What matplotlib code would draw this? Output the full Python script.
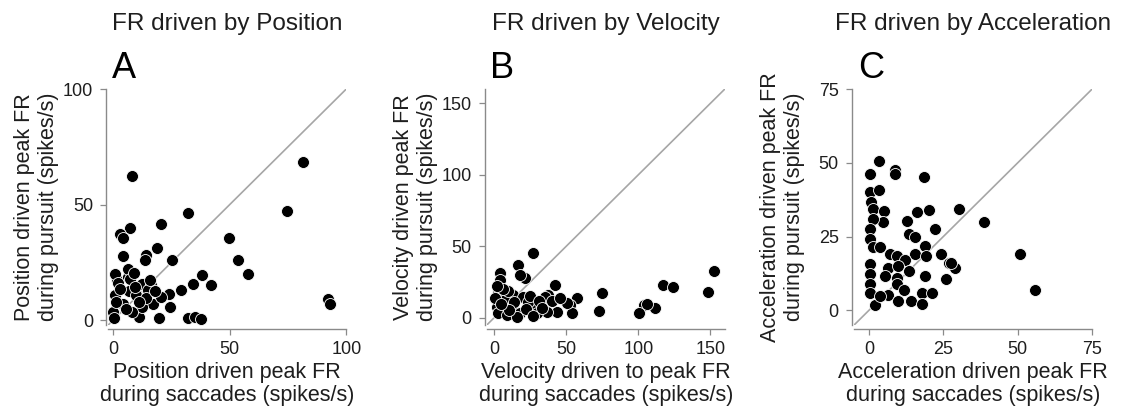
import matplotlib.pyplot as plt

plt.rcParams['font.family'] = ['Liberation Sans', 'DejaVu Sans']

# Peak firing rates (spikes/s): saccades (x) vs pursuit (y)
pos_sacc = [8.0, 81.6, 74.6, 32.2, 20.4, 7.3, 3.0, 4.4, 49.6, 18.7, 14.4, 13.7, 25.3, 4.4,
            53.8, 57.8, 92.0, 93.0, 38.2, 42.2, 34.2, 29.1, 24.1, 24.4, 32.2, 35.3, 37.9,
            19.7, 11.1, 17.2, 20.8, 12.3, 8.3, 4.4, 0.1, 1.1, 6.8, 1.6, 6.5, 6.5, 12.3,
            16.5, 10.1, 15.1, 0.9, 7.3, 2.3, 0.5, 3.0, 9.5, 14.0, 18.0, 5.5, 16.0, 11.0,
            1.5, 9.0]
pos_purs = [62.4, 68.5, 47.2, 46.6, 41.6, 39.8, 37.3, 35.5, 35.6, 31.2, 28.3, 26.0, 26.3, 28.0,
            25.9, 20.2, 9.4, 7.0, 19.7, 15.2, 15.6, 13.3, 11.3, 5.6, 0.9, 1.6, 0.4,
            0.9, 1.3, 7.3, 10.2, 5.9, 3.7, 7.0, 3.7, 10.9, 12.6, 17.3, 18.7, 22.3, 15.9,
            15.2, 10.9, 13.0, 20.2, 18.0, 16.0, 1.0, 13.5, 14.5, 9.5, 12.5, 5.0, 17.5, 8.0,
            8.0, 20.5]

vel_sacc = [26.9, 16.4, 21.5, 18.1, 4.2, 4.2, 42.4, 152.8, 148.4, 116.9, 123.8, 111.8, 103.7,
            100.2, 106.0, 75.2, 72.9, 57.4, 52.8, 53.9, 43.5, 36.6, 37.5, 3.0, 13.4, 20.3,
            7.6, 1.9, 12.3, 3.0, 8.8, 18.1, 28.5, 35.4, 29.6, 50.5, 23.8, 0.8, 15.8, 10.0,
            6.0, 25.0, 31.0, 14.0, 22.0, 2.0, 33.0, 40.0, 10.5, 5.0, 27.0, 46.0]
vel_purs = [45.2, 37.1, 27.8, 30.1, 31.2, 26.6, 23.1, 33.1, 18.4, 23.1, 21.9, 6.8, 9.1,
            3.7, 10.0, 17.3, 4.9, 13.8, 9.1, 3.7, 4.4, 4.4, 16.1, 17.3, 16.1, 14.9,
            12.6, 7.9, 7.9, 3.3, 2.1, 3.3, 9.1, 14.9, 3.3, 10.3, 11.4, 13.8, 0.9, 18.5,
            20.5, 15.5, 12.0, 11.0, 6.0, 22.0, 7.0, 12.0, 5.5, 9.5, 1.5, 14.0]

acc_sacc = [3.2, 0.3, 8.6, 8.6, 18.6, 0.3, 3.4, 0.7, 1.5, 5.2, 20.3, 30.2, 16.1, 12.7, 4.8,
            1.5, 0.3, 22.3, 13.3, 15.5, 0.3, 1.5, 3.7, 18.9, 7.1, 9.4, 15.3, 19.2, 24.3,
            12.2, 26.8, 28.8, 0.3, 6.5, 9.9, 13.3, 0.3, 5.4, 9.4, 18.7, 25.9, 0.3, 9.4,
            0.3, 6.5, 11.9, 17.8, 21.2, 9.9, 14.2, 17.8, 2.0, 3.7, 38.6, 50.8, 55.8, 27.4]
acc_purs = [50.6, 46.3, 47.4, 46.1, 45.2, 40.0, 40.9, 36.6, 34.4, 33.6, 34.1, 34.4, 33.2, 30.4,
            29.8, 31.0, 27.5, 27.5, 25.8, 24.7, 24.1, 21.3, 21.3, 21.8, 19.0, 18.4, 19.0,
            18.4, 19.2, 17.0, 16.1, 14.4, 15.6, 14.4, 15.0, 13.3, 12.2, 11.6, 11.0, 11.6,
            10.7, 8.8, 8.8, 5.9, 5.3, 7.0, 5.9, 5.9, 3.1, 3.3, 2.2, 1.9, 4.8, 29.8, 19.2,
            6.8, 16.1]

titles = ['FR driven by Position', 'FR driven by Velocity', 'FR driven by Acceleration']
letters = ['A', 'B', 'C']
xlabels = ['Position driven peak FR\nduring saccades (spikes/s)',
           'Velocity driven to peak FR\nduring saccades (spikes/s)',
           'Acceleration driven peak FR\nduring saccades (spikes/s)']
ylabels = ['Position driven peak FR\nduring pursuit (spikes/s)',
           'Velocity driven peak FR\nduring pursuit (spikes/s)',
           'Acceleration driven peak FR\nduring pursuit (spikes/s)']
limits = [(-2, 100), (-5, 160), (-5, 75)]
ticks = [[0, 50, 100], [0, 50, 100, 150], [0, 25, 50, 75]]

xs = [pos_sacc, vel_sacc, acc_sacc]
ys = [pos_purs, vel_purs, acc_purs]

fig = plt.figure(figsize=(11.25, 4.11), dpi=100)
lefts = [0.0962, 0.4327, 0.7592]
text_col = '#1e1e1e'
axis_col = '#8a8a8a'

for i in range(3):
    ax = fig.add_axes([lefts[i], 0.2092, 0.2116, 0.5742])
    lo, hi = limits[i]
    # unity line
    ax.plot([lo, hi], [lo, hi], color='#a6a6a6', lw=1.2, zorder=1)
    ax.scatter(xs[i], ys[i], s=74, c='black', edgecolors='white', linewidths=0.6, zorder=2)
    ax.set_xlim(lo, hi)
    ax.set_ylim(lo, hi)
    ax.set_xticks(ticks[i])
    ax.set_yticks(ticks[i])

    for side in ['top', 'right']:
        ax.spines[side].set_visible(False)
    ax.spines['left'].set_position(('outward', 1.5))
    ax.spines['bottom'].set_position(('outward', 3))
    for side in ['left', 'bottom']:
        ax.spines[side].set_color(axis_col)
        ax.spines[side].set_linewidth(1.0)
    ax.tick_params(axis='both', direction='out', length=4.5, width=0.9, color=axis_col,
                   labelsize=13, labelcolor=text_col)
    ax.tick_params(axis='x', pad=4)
    ax.tick_params(axis='y', pad=5)

    ax.set_xlabel(xlabels[i], fontsize=15.5, color=text_col, va='center', linespacing=1.1)
    ax.xaxis.set_label_coords(0.5, -0.25)
    ax.set_ylabel(ylabels[i], fontsize=15.5, color=text_col, va='center')
    ax.yaxis.set_label_coords(-0.30, 0.5)

    ax.text(0.5, 1.25, titles[i], transform=ax.transAxes, ha='center', va='baseline',
            fontsize=17.5, color=text_col)
    ax.text(0.015, 1.047, letters[i], transform=ax.transAxes, ha='left', va='baseline',
            fontsize=26, color='black')

fig.savefig('out.png', dpi=100)
